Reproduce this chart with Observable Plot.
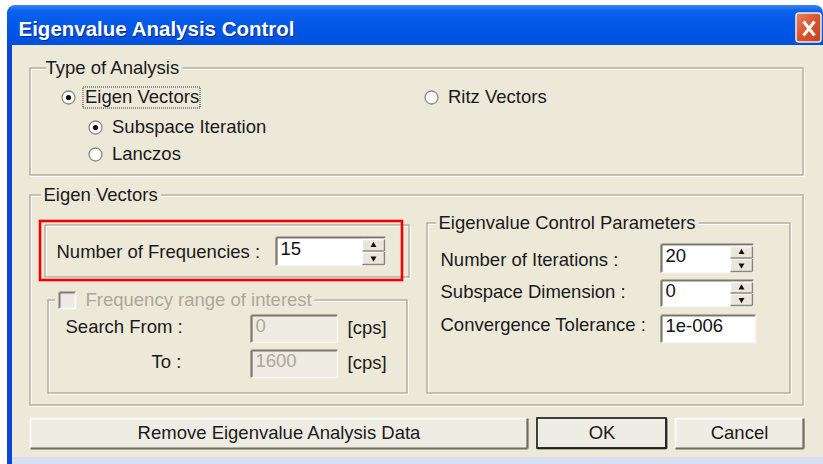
<!DOCTYPE html>
<html><head><meta charset="utf-8">
<script src="https://cdn.jsdelivr.net/npm/d3@7"></script>
<script src="https://cdn.jsdelivr.net/npm/@observablehq/plot@0.6"></script>
<style>html,body{margin:0;padding:0;background:#fff;} #chart svg{display:block}</style>
</head><body><div id="chart"></div>
<script>
// ---------- content ----------
const titleText = ["Eigenvalue Analysis Control"];
const groupLabels = ["Type of Analysis", "Eigen Vectors", "", "Frequency range of interest", "Eigenvalue Control Parameters"];
const groupEnabled = [true, true, true, false, true];
const radioLabels = ["Eigen Vectors", "Ritz Vectors", "Subspace Iteration", "Lanczos"];
const radioChecked = [true, false, true, false];
const fieldLabels = ["Number of Frequencies :", "Search From :", "To :", "Number of Iterations :", "Subspace Dimension :", "Convergence Tolerance :"];
const fieldValues = ["15", "0", "1600", "20", "0", "1e-006"];
const fieldEnabled = [true, false, false, true, true, true];
const fieldSpinner = [true, false, false, true, true, false];
const unitLabels = ["[cps]", "[cps]"];
const buttonLabels = ["Remove Eigenvalue Analysis Data", "OK", "Cancel"];
const buttonDefault = [false, true, false];

// ---------- layout (dialog pixel units) ----------
const groupBoxes = [[30, 803, 68, 175, 45], [30, 803, 195, 405, 43], [45, 409, 225, 277, 0], [48, 407, 300, 393, 85], [427, 790, 223, 393, 438]];
const radioPos = [[68, 97], [431, 97], [95, 127], [95, 154]];
const labelPos = [[56, 252], [65, 327], [151, 362], [440, 260], [440, 292], [440, 325]];
const fieldBoxes = [[276, 385, 237, 265], [251, 337, 315, 342], [251, 337, 350, 377], [661, 753, 244, 272], [661, 753, 280, 306], [661, 755, 315, 342]];
const unitPos = [[347, 328], [347, 363]];
const buttonBoxes = [[30, 527, 418, 448], [537, 666, 418, 448], [675, 803, 418, 448]];
const highlightBox = [[40, 402, 221, 280]];
const checkBox = [[59, 75, 292, 308]];
const focusBox = [[83, 200, 87, 108]];
const windowBox = {x1: 7, x2: 823, y1: 5, titleBottom: 45, bottom: 457, y2: 464};

// ---------- tables ----------
const BG = "#ECE9D8";
const groups = groupLabels.map((label, i) => ({label, enabled: groupEnabled[i], x1: groupBoxes[i][0], x2: groupBoxes[i][1], y1: groupBoxes[i][2], y2: groupBoxes[i][3], lx: groupBoxes[i][4]}));
const radios = radioLabels.map((label, i) => ({label, checked: radioChecked[i], x: radioPos[i][0], y: radioPos[i][1]}));
const fields = fieldLabels.map((label, i) => ({label, value: fieldValues[i], enabled: fieldEnabled[i], spinner: fieldSpinner[i],
  lx: labelPos[i][0], ly: labelPos[i][1], x1: fieldBoxes[i][0], x2: fieldBoxes[i][1], y1: fieldBoxes[i][2], y2: fieldBoxes[i][3]}));
const units = unitLabels.map((label, i) => ({label, x: unitPos[i][0], y: unitPos[i][1]}));
const buttons = buttonLabels.map((label, i) => ({label, def: buttonDefault[i], x1: buttonBoxes[i][0], x2: buttonBoxes[i][1], y1: buttonBoxes[i][2], y2: buttonBoxes[i][3]}));
const toBox = b => ({x1: b[0], x2: b[1], y1: b[2], y2: b[3]});

const spinners = [];
fields.filter(f => f.spinner).forEach(f => {
  const sx1 = f.x2 - 23, sx2 = f.x2 - 1, mid = (f.y1 + f.y2) / 2;
  spinners.push({x1: sx1, x2: sx2, y1: f.y1 + 2, y2: mid - 0.5, dir: "up"});
  spinners.push({x1: sx1, x2: sx2, y1: mid + 0.5, y2: f.y2 - 1, dir: "down"});
});

function bevel(boxes, tl, br) {
  const dark = [], light = [];
  boxes.forEach(b => {
    dark.push({x1: b.x1, y1: b.y1, x2: b.x2, y2: b.y1}, {x1: b.x1, y1: b.y1, x2: b.x1, y2: b.y2});
    light.push({x1: b.x1, y1: b.y2, x2: b.x2, y2: b.y2}, {x1: b.x2, y1: b.y1, x2: b.x2, y2: b.y2});
  });
  return [dark, light];
}
const [fieldTL, fieldBR] = bevel(fields);
const [spinTL, spinBR] = bevel(spinners);
const [btnTL, btnBR] = bevel(buttons);
const [chkTL, chkBR] = bevel(checkBox.map(toBox));

const FONT = "'Liberation Sans', Arial, sans-serif";
const FS = 18.5;
const seg = (data, stroke, w) => Plot.link(data, {x1: "x1", y1: "y1", x2: "x2", y2: "y2", stroke, strokeWidth: w});

const chart = Plot.plot({
  width: 823, height: 464,
  margin: 0, marginTop: 0, marginRight: 0, marginBottom: 0, marginLeft: 0,
  x: {domain: [0, 823], range: [0, 823], axis: null},
  y: {domain: [0, 464], range: [0, 464], axis: null},
  style: {fontFamily: FONT, fontSize: FS + "px", background: "#fff", color: "#111"},
  marks: [
    // window chrome
    Plot.rect([windowBox], {x1: "x1", x2: "x2", y1: "y1", y2: d => d.titleBottom + 8, rx: 8, fill: "url(#tb)"}),
    Plot.rect([windowBox], {x1: "x1", x2: "x2", y1: "titleBottom", y2: "bottom", fill: BG}),
    Plot.rect([windowBox], {x1: "x1", x2: d => d.x1 + 5, y1: "titleBottom", y2: "y2", fill: "#0C45D4"}),
    Plot.rect([windowBox], {x1: d => d.x1 + 5, x2: "x2", y1: "bottom", y2: "y2", fill: "#D5E1F2"}),
    Plot.text(titleText, {x: 19, y: 29.5, text: d => d, textAnchor: "start", fontWeight: "bold", fontSize: 20.5, fill: "#0A2A8A"}),
    Plot.text(titleText, {x: 18, y: 28.5, text: d => d, textAnchor: "start", fontWeight: "bold", fontSize: 20.5, fill: "#fff"}),
    // close button
    Plot.rect([{x1: 796, x2: 821, y1: 13, y2: 42}], {x1: "x1", x2: "x2", y1: "y1", y2: "y2", rx: 3, fill: "url(#cb)", stroke: "#F3EDE8", strokeWidth: 1.5}),
    Plot.link([{x1: 803, y1: 21, x2: 814, y2: 35}, {x1: 814, y1: 21, x2: 803, y2: 35}], {x1: "x1", y1: "y1", x2: "x2", y2: "y2", stroke: "#fff", strokeWidth: 3}),

    // group frames (etched)
    Plot.rect(groups, {x1: d => d.x1 + 1.2, x2: d => d.x2 + 1.2, y1: d => d.y1 + 1.2, y2: d => d.y2 + 1.2, fill: "none", stroke: "#FFFFFF", strokeWidth: 1.2}),
    Plot.rect(groups, {x1: "x1", x2: "x2", y1: "y1", y2: "y2", fill: "none", stroke: "#ABA898", strokeWidth: 1.3}),
    Plot.rect(checkBox.map(toBox), {x1: d => d.x1 - 4, x2: d => d.x2 + 8, y1: d => d.y1 + 4, y2: d => d.y2 - 4, fill: BG}),
    Plot.text(groups.filter(d => d.label && d.enabled), {x: "lx", y: "y1", text: "label", textAnchor: "start", fontSize: FS, fill: "#1a1a1a", stroke: BG, strokeWidth: 8}),
    Plot.text(groups.filter(d => d.label && !d.enabled), {x: "lx", y: "y1", text: "label", textAnchor: "start", fontSize: FS, fill: "#ACA899", stroke: BG, strokeWidth: 8}),
    // disabled checkbox
    Plot.rect(checkBox.map(toBox), {x1: "x1", x2: "x2", y1: "y1", y2: "y2", fill: "#EDEBE1"}),
    seg(chkTL, "#7D7B70", 2), seg(chkBR, "#FFFFFF", 1.5),

    // radios
    Plot.dot(radios, {x: "x", y: "y", r: 6.5, fill: "#FDFDFB", stroke: "#8E8C80", strokeWidth: 1.3}),
    Plot.dot(radios.filter(d => d.checked), {x: "x", y: "y", r: 2.6, fill: "#111"}),
    Plot.text(radios, {x: d => d.x + 16.5, y: "y", text: "label", textAnchor: "start", fontSize: FS, fill: "#1a1a1a"}),
    Plot.rect(focusBox.map(toBox), {x1: "x1", x2: "x2", y1: "y1", y2: "y2", fill: "none", stroke: "#333", strokeWidth: 1, strokeDasharray: "1,1"}),

    // fields
    Plot.rect(fields, {x1: "x1", x2: "x2", y1: "y1", y2: "y2", fill: d => d.enabled ? "#FFFFFF" : "#EDEBE2"}),
    seg(fieldTL, "#7A786C", 2.2), seg(fieldBR, "#F7F6F1", 1.6),
    Plot.text(fields, {x: "lx", y: "ly", text: "label", textAnchor: "start", fontSize: FS, fill: "#1a1a1a"}),
    Plot.text(fields.filter(d => d.enabled), {x: d => d.x1 + 4, y: d => (d.y1 + d.y2) / 2 - 2.5, text: "value", textAnchor: "start", fontSize: FS, fill: "#111"}),
    Plot.text(fields.filter(d => !d.enabled), {x: d => d.x1 + 4, y: d => (d.y1 + d.y2) / 2 - 2.5, text: "value", textAnchor: "start", fontSize: FS, fill: "#ACA899"}),
    Plot.rect(spinners, {x1: "x1", x2: "x2", y1: "y1", y2: "y2", fill: "#EAE7DA"}),
    seg(spinTL, "#FFFFFF", 1.3), seg(spinBR, "#8A887C", 1.5),
    Plot.dot(spinners, {x: d => (d.x1 + d.x2) / 2, y: d => (d.y1 + d.y2) / 2, symbol: "triangle", r: 2.2, fill: "#111", rotate: d => d.dir === "up" ? 0 : 180}),
    Plot.text(units, {x: "x", y: "y", text: "label", textAnchor: "start", fontSize: FS, fill: "#1a1a1a"}),

    // red highlight
    Plot.rect(highlightBox.map(toBox), {x1: "x1", x2: "x2", y1: "y1", y2: "y2", fill: "none", stroke: "#F00000", strokeWidth: 2.6}),

    // buttons
    Plot.rect(buttons, {x1: "x1", x2: "x2", y1: "y1", y2: "y2", fill: "#EFEDE3"}),
    seg(btnTL, "#FFFFFF", 1.6), seg(btnBR, "#6E6C61", 2.2),
    Plot.rect(buttons.filter(d => d.def), {x1: "x1", x2: "x2", y1: "y1", y2: "y2", fill: "none", stroke: "#111", strokeWidth: 1.6}),
    Plot.text(buttons, {x: d => (d.x1 + d.x2) / 2, y: d => (d.y1 + d.y2) / 2, text: "label", fontSize: FS, fill: "#1a1a1a"})
  ]
});

d3.select(chart).insert("defs", ":first-child").html(`
  <linearGradient id="tb" x1="0" y1="0" x2="0" y2="1">
    <stop offset="0" stop-color="#3C86F4"/>
    <stop offset="0.12" stop-color="#0B62EC"/>
    <stop offset="0.5" stop-color="#0056E6"/>
    <stop offset="0.8" stop-color="#0052DD"/>
    <stop offset="1" stop-color="#0040C4"/>
  </linearGradient>
  <linearGradient id="cb" x1="0" y1="0" x2="1" y2="1">
    <stop offset="0" stop-color="#E9835E"/>
    <stop offset="0.5" stop-color="#D8542E"/>
    <stop offset="1" stop-color="#C2401E"/>
  </linearGradient>`);

document.getElementById("chart").appendChild(chart);
</script>
</body></html>
